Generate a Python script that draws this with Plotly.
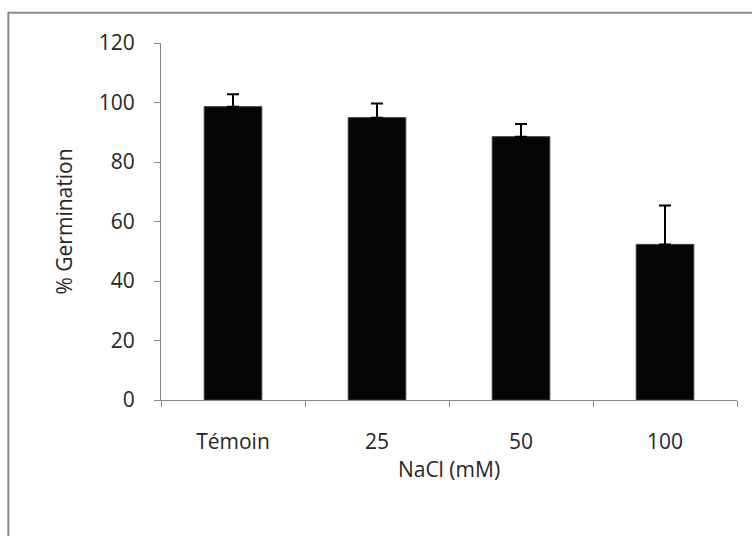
import plotly.graph_objects as go

categories = ["Témoin", "25", "50", "100"]
germination = [98.6, 94.9, 88.5, 52.3]
error_up = [4.2, 4.8, 4.3, 13.1]
y_ticks = [0, 20, 40, 60, 80, 100, 120]

FONT = "Open Sans"
AXIS_COLOR = "#868686"

fig = go.Figure()
fig.add_trace(go.Bar(
    x=categories,
    y=germination,
    marker=dict(color="#050505", line=dict(color="#3a3a3a", width=1)),
    error_y=dict(type="data", symmetric=False, array=error_up,
                 arrayminus=[0] * len(error_up),
                 color="black", thickness=2, width=6),
    width=0.4,
))

# outer chart frame (extends past right/bottom edge as in reference)
fig.add_shape(type="rect", xref="paper", yref="paper",
              x0=-0.265, y0=-0.6, x1=1.2, y1=1.085,
              line=dict(color="#8a8a8a", width=2), fillcolor="rgba(0,0,0,0)",
              layer="below")

fig.update_layout(
    width=752, height=536,
    margin=dict(l=161, r=15, t=43, b=136),
    paper_bgcolor="white", plot_bgcolor="white",
    showlegend=False,
    font=dict(family=FONT, size=21, color="#262626"),
    xaxis=dict(
        type="category",
        showline=True, linecolor=AXIS_COLOR, linewidth=1,
        ticks="outside", tickson="boundaries", ticklen=6, tickcolor=AXIS_COLOR,
        showgrid=False, zeroline=False,
        ticklabelstandoff=23,
        title=dict(text="NaCl (mM)", standoff=8, font=dict(family=FONT, size=21)),
    ),
    yaxis=dict(
        range=[0, 120],
        tickvals=y_ticks,
        showline=True, linecolor=AXIS_COLOR, linewidth=1,
        ticks="outside", ticklen=6, tickcolor=AXIS_COLOR,
        showgrid=False, zeroline=False,
        ticklabelstandoff=15,
        title=dict(text="% Germination", standoff=20, font=dict(family=FONT, size=21)),
    ),
)

fig.write_html("out.html")
